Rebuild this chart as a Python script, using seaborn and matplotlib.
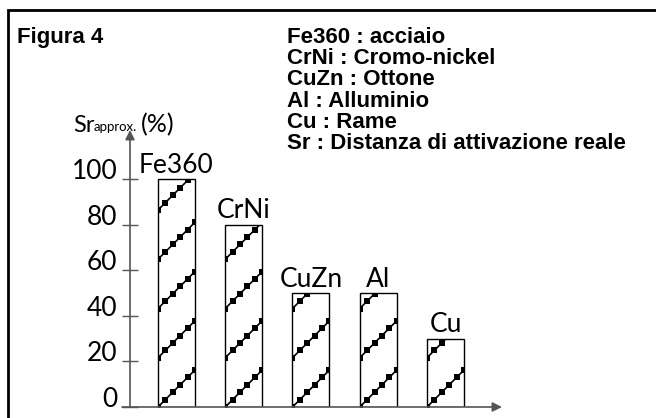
import numpy as np
import matplotlib
matplotlib.use("Agg")
from matplotlib import pyplot as plt
from matplotlib.patches import Rectangle
import seaborn as sns

# dati
materials = ["Fe360", "CrNi", "CuZn", "Al", "Cu"]
sr_values = [100, 80, 50, 50, 30]
y_ticks = [0, 20, 40, 60, 80, 100]
legend_lines = ["Fe360 : acciaio", "CrNi : Cromo-nickel", "CuZn : Ottone",
                "Al : Alluminio", "Cu : Rame", "Sr : Distanza di attivazione reale"]

sns.set_style("white")
plt.rcParams['font.family'] = ['Lato', 'DejaVu Sans']
plt.rcParams['text.color'] = 'black'
light = dict(family=['Lato', 'DejaVu Sans'], fontweight='normal', color='black')
bold = dict(family=['Liberation Sans', 'DejaVu Sans'], fontweight='bold', color='black')

W, H = 656, 418
fig = plt.figure(figsize=(W / 100, H / 100), dpi=100)
ax = fig.add_axes([130 / W, 11 / H, 372 / W, 277 / H])

sns.barplot(x=materials, y=sr_values, color="white", edgecolor="black",
            linewidth=1, width=0.55, ax=ax)
ax.set_xlim(-0.691, 4.84)
ax.set_ylim(0, 121.5)
for s in ax.spines.values():
    s.set_visible(False)

# tratteggio a gradini
fig.canvas.draw()
p0 = ax.transData.transform((0, 0))
p1 = ax.transData.transform((1, 1))
ppx, ppy = p1[0] - p0[0], p1[1] - p0[1]
period = 21.6
for bar in ax.patches:
    x0, w, h = bar.get_x(), bar.get_width(), bar.get_height()
    rise = w * ppx / ppy
    k = 0
    while k * period < h:
        t = np.linspace(0, 1, 6)
        xs = x0 + w * t
        ys = k * period + rise * t
        ln, = ax.plot(xs, ys, color="black", lw=1.2, marker="s",
                      markersize=4.4, markeredgewidth=0)
        ln.set_clip_path(bar)
        k += 1

ax.bar_label(ax.containers[0], labels=materials, padding=1, fontsize=19, **light)

# assi con frecce
arrow = dict(arrowstyle="-|>", color="#555555", lw=1.2, mutation_scale=14,
             shrinkA=0, shrinkB=0)
ax.annotate("", xy=(1, 0), xytext=(-8 / 372, 0), xycoords="axes fraction",
            arrowprops=arrow, annotation_clip=False)
ax.annotate("", xy=(0, 1), xytext=(0, 0), xycoords="axes fraction",
            arrowprops=arrow, annotation_clip=False)

ax.set_xticks([])
ax.set_yticks(y_ticks)
ax.set_yticklabels([str(v) for v in y_ticks], **light)
ax.tick_params(axis="y", direction="inout", length=11.5, width=1,
               color="#555555", pad=3.5, labelsize=19, left=True,
               labelcolor="black")
for lbl in ax.get_yticklabels():
    lbl.set_verticalalignment("baseline")
ax.set_xlabel("")
ax.set_ylabel("")

# etichetta asse y
fig.text(73 / W, 1 - 132 / H, "Sr", fontsize=17, **light)
fig.text(94 / W, 1 - 131 / H, "approx.", fontsize=9.5, **light)
fig.text(141 / W, 1 - 132 / H, "(%)", fontsize=18, **light)

# testi in grassetto
fig.text(17 / W, 1 - 43 / H, "Figura 4", fontsize=16, **bold)
for i, line in enumerate(legend_lines):
    fig.text(287 / W, 1 - (43 + 21.2 * i) / H, line, fontsize=16, **bold)

# cornice
fig.add_artist(Rectangle((8 / W, -0.1), 1.2, 1.1 - 10 / H, transform=fig.transFigure,
                         fill=False, lw=2, ec="black", clip_on=False))

plt.savefig("out.png", dpi=100)
